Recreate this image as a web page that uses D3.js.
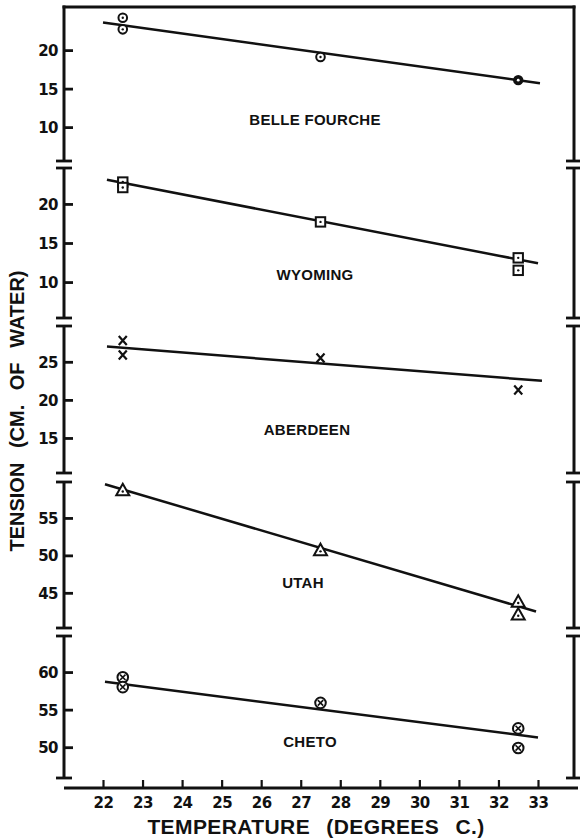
<!DOCTYPE html>
<html>
<head>
<meta charset="utf-8">
<script src="https://cdn.jsdelivr.net/npm/d3@7/dist/d3.min.js"></script>
<style>
  body { margin: 0; background: #fff; }
  text { font-family: "Liberation Sans", Arial, sans-serif; font-weight: bold; fill: #111; }
</style>
</head>
<body>
<script>
var width = 580, height = 840;

// ---- data ----
var soils = ["BELLE FOURCHE", "WYOMING", "ABERDEEN", "UTAH", "CHETO"];
var markers = ["circleDot", "squareDot", "cross", "triangleDot", "circleX"];

var xTicks = [22, 23, 24, 25, 26, 27, 28, 29, 30, 31, 32, 33];

// [temperature, tension]
var belleFourche = [[22.5, 24.2], [22.5, 22.7], [27.5, 19.1], [32.5, 16.1]];
var wyoming      = [[22.5, 22.8], [22.5, 22.1], [27.5, 17.7], [32.5, 13.1], [32.5, 11.5]];
var aberdeen     = [[22.5, 27.8], [22.5, 25.9], [27.5, 25.5], [32.5, 21.3]];
var utah         = [[22.5, 58.7], [27.5, 50.7], [32.5, 43.8], [32.5, 42.1]];
var cheto        = [[22.5, 59.3], [22.5, 58.0], [27.5, 55.9], [32.5, 52.5], [32.5, 49.9]];

// fitted line ends [temperature, tension]
var fitLines = [
  [[22.0, 23.6], [33.05, 15.7]],
  [[22.1, 23.1], [33.0, 12.4]],
  [[22.1, 27.0], [33.1, 22.5]],
  [[22.05, 59.5], [32.95, 42.5]],
  [[22.05, 58.7], [33.0, 51.3]]
];

var yDomains = [[5.6, 25.6], [5.4, 24.6], [10.4, 29.7], [40.3, 59.8], [45.9, 64.8]];
var yTicks = [[10, 15, 20], [10, 15, 20], [15, 20, 25], [45, 50, 55], [50, 55, 60]];

var series = [belleFourche, wyoming, aberdeen, utah, cheto];
var filledBelle = [false, false, false, true];

// ---- layout ----
var left = 64, right = 574;
var panelTop = [7, 168, 326, 482, 636];
var panelBottom = [161, 318, 473, 628, 778];
var labelX = [315, 315, 307, 303, 310];
var labelY = [120, 275, 430, 583, 742];
var xAxisY = 788;
var tickFont = "'DejaVu Sans', sans-serif";

var svg = d3.select("body").append("svg")
  .attr("width", width)
  .attr("height", height);

var x = d3.scaleLinear().domain([22, 33]).range([103, 538]);

var ink = "#111";

// top border
svg.append("line")
  .attr("x1", left - 1.5).attr("x2", right + 1.5)
  .attr("y1", panelTop[0]).attr("y2", panelTop[0])
  .attr("stroke", ink).attr("stroke-width", 3);

soils.forEach(function(name, i) {
  var y = d3.scaleLinear().domain(yDomains[i]).range([panelBottom[i], panelTop[i]]);
  var g = svg.append("g");

  // left and right axis segments
  [left, right].forEach(function(ax) {
    g.append("line")
      .attr("x1", ax).attr("x2", ax)
      .attr("y1", i == 0 ? panelTop[i] - 1.5 : panelTop[i])
      .attr("y2", panelBottom[i])
      .attr("stroke", ink).attr("stroke-width", 3);
    // break caps
    if (i > 0) {
      g.append("line")
        .attr("x1", ax - 8).attr("x2", ax + 8)
        .attr("y1", panelTop[i]).attr("y2", panelTop[i])
        .attr("stroke", ink).attr("stroke-width", 2.8);
    }
    g.append("line")
      .attr("x1", ax - 8).attr("x2", ax + 8)
      .attr("y1", panelBottom[i]).attr("y2", panelBottom[i])
      .attr("stroke", ink).attr("stroke-width", 2.8);
  });

  // y axis ticks (pointing inward)
  var axis = d3.axisRight(y).tickValues(yTicks[i]).tickSize(9).tickFormat(d3.format("d"));
  var ag = g.append("g").attr("transform", "translate(" + left + ",0)").call(axis);
  ag.select(".domain").remove();
  ag.selectAll(".tick line").attr("stroke", ink).attr("stroke-width", 2.8);
  ag.selectAll(".tick text")
    .attr("x", -6).attr("dy", "0.36em")
    .attr("text-anchor", "end")
    .style("font-size", "15px")
    .style("font-family", tickFont)
    .style("font-weight", "bold")
    .style("letter-spacing", "-0.5px")
    .attr("fill", ink);

  // fit line
  g.append("line")
    .attr("x1", x(fitLines[i][0][0])).attr("y1", y(fitLines[i][0][1]))
    .attr("x2", x(fitLines[i][1][0])).attr("y2", y(fitLines[i][1][1]))
    .attr("stroke", ink).attr("stroke-width", 2.5);

  // markers
  series[i].forEach(function(p, k) {
    var cx = x(p[0]), cy = y(p[1]);
    var m = g.append("g").attr("transform", "translate(" + cx + "," + cy + ")");
    var type = markers[i];
    if (type == "circleDot") {
      if (filledBelle[k]) {
        m.append("circle").attr("r", 5.2).attr("fill", ink);
        m.append("circle").attr("r", 1.4).attr("fill", "#fff");
      } else {
        m.append("circle").attr("r", 4.3).attr("fill", "#fff").attr("stroke", ink).attr("stroke-width", 2);
        m.append("circle").attr("r", 1.2).attr("fill", ink);
      }
    } else if (type == "squareDot") {
      m.append("rect").attr("x", -4.7).attr("y", -4.7).attr("width", 9.4).attr("height", 9.4)
        .attr("fill", "#fff").attr("stroke", ink).attr("stroke-width", 2);
      m.append("circle").attr("r", 1.2).attr("fill", ink);
    } else if (type == "cross") {
      m.append("path").attr("d", "M-4,-4.5L4,4.5M-4,4.5L4,-4.5")
        .attr("stroke", ink).attr("stroke-width", 2.2);
    } else if (type == "triangleDot") {
      m.append("path").attr("d", "M0,-6.5L6.5,5L-6.5,5Z")
        .attr("fill", "#fff").attr("stroke", ink).attr("stroke-width", 2);
      m.append("circle").attr("cy", 1.2).attr("r", 1.2).attr("fill", ink);
    } else if (type == "circleX") {
      m.append("circle").attr("r", 5.3).attr("fill", "#fff").attr("stroke", ink).attr("stroke-width", 2);
      m.append("path").attr("d", "M-2.7,-2.7L2.7,2.7M-2.7,2.7L2.7,-2.7")
        .attr("stroke", ink).attr("stroke-width", 1.6);
    }
  });

  // soil name
  g.append("text")
    .attr("x", labelX[i])
    .attr("y", labelY[i])
    .attr("dy", "0.36em")
    .attr("text-anchor", "middle")
    .style("font-size", "15px")
    .style("letter-spacing", "0.3px")
    .text(name);
});

// x axis
var xAxis = d3.axisTop(x).tickValues(xTicks).tickSize(8).tickFormat(d3.format("d"));
var xg = svg.append("g").attr("transform", "translate(0," + xAxisY + ")").call(xAxis);
xg.select(".domain").remove();
xg.append("line")
  .attr("x1", left).attr("x2", right + 4)
  .attr("y1", 0).attr("y2", 0)
  .attr("stroke", ink).attr("stroke-width", 2.8);
xg.selectAll(".tick line").attr("stroke", ink).attr("stroke-width", 2.2);
xg.selectAll(".tick text")
  .attr("y", 15).attr("dy", "0.36em")
  .style("font-size", "15px")
  .style("font-family", tickFont)
  .style("font-weight", "bold")
  .style("letter-spacing", "-0.5px")
  .attr("fill", ink);

// axis titles
svg.append("text")
  .attr("x", 316).attr("y", 834)
  .attr("text-anchor", "middle")
  .style("font-size", "21px")
  .style("letter-spacing", "0.4px")
  .style("word-spacing", "10px")
  .text("TEMPERATURE (DEGREES C.)");

svg.append("text")
  .attr("transform", "translate(24,411) rotate(-90)")
  .attr("text-anchor", "middle")
  .style("font-size", "20px")
  .style("word-spacing", "9px")
  .text("TENSION (CM. OF WATER)");
</script>
</body>
</html>
